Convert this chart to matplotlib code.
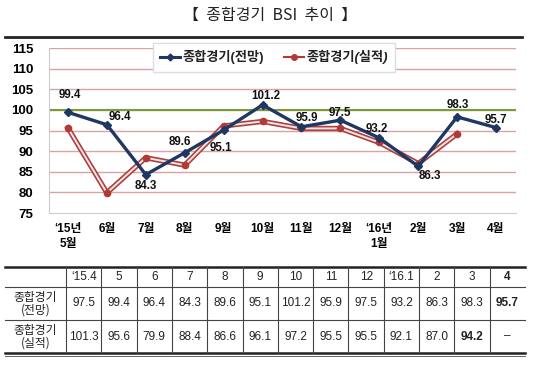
import numpy as np
import matplotlib
matplotlib.use("Agg")
import matplotlib.pyplot as plt
from matplotlib.lines import Line2D

plt.rcParams['font.family'] = ['Liberation Sans', 'Noto Sans CJK KR']

# data (table columns: '15.4 ... '16.4)
tbl_cols = ["\u201815.4", "5", "6", "7", "8", "9", "10", "11", "12", "\u201816.1", "2", "3", "4"]
outlook = [97.5, 99.4, 96.4, 84.3, 89.6, 95.1, 101.2, 95.9, 97.5, 93.2, 86.3, 98.3, 95.7]
actual = [101.3, 95.6, 79.9, 88.4, 86.6, 96.1, 97.2, 95.5, 95.5, 92.1, 87.0, 94.2, None]
months = ["\u201815년\n5월", "6월", "7월", "8월", "9월", "10월", "11월", "12월",
          "\u201816년\n1월", "2월", "3월", "4월"]

# chart shows May'15 .. Apr'16
ch_out = outlook[1:]
ch_act = [v for v in actual[1:] if v is not None]
label_off = [(2, 17), (13, 8), (0, -11), (-5, 11), (-3, -18), (3, 9), (5, 9),
             (0, 7), (-2, 9), (12, -10), (1, 12), (0, 8)]

W, H = 540, 373
fig = plt.figure(figsize=(W / 100, H / 100), dpi=100)

def fx(px):
    return px / W

def fy(py):
    return 1 - py / H

fig.text(0.5, fy(15), "【  종합경기  BSI  추이  】", ha='center', va='center', fontsize=11.5,
         family=['Noto Sans CJK KR', 'DejaVu Sans'], color='#222222')
fig.add_artist(Line2D([fx(5), fx(522)], [fy(37), fy(37)], color='#222222', lw=2))

ax = fig.add_axes([fx(48.5), fy(213), fx(515.5 - 48.5), (213 - 48) / H])
x = np.arange(len(months))
for yv in range(80, 116, 5):
    ax.axhline(yv, color='#dba3a3', lw=1, zorder=1)
ax.axhline(100, color='#7a9a3c', lw=1.5, zorder=2)

xa = np.arange(len(ch_act))
ax.plot(xa, ch_act, color='#a8433f', lw=3.8, zorder=3)
ax.plot(xa, ch_act, color='#f6e4e4', lw=1.4, zorder=4)
ax.plot(xa, ch_act, ls='none', marker='o', ms=4.5, color='#b03a36', zorder=5)
ax.plot(x, ch_out, color='#1f3763', lw=2.4, marker='D', ms=3.8, zorder=6)

for i, v in enumerate(ch_out):
    ax.annotate(f"{v:.1f}", (x[i], v), xytext=label_off[i], textcoords='offset pixels',
                ha='center', va='center', fontsize=8.3, fontweight='bold', color='#111111', zorder=7)

ax.set_xlim(-0.5, len(months) - 0.5)
ax.set_ylim(75, 115)
ax.set_yticks(range(75, 116, 5))
ax.set_xticks(x)
ax.set_xticklabels(months, fontsize=8.5, fontweight='bold', linespacing=1.35, va='top')
ax.tick_params(axis='both', length=0)
ax.tick_params(axis='y', labelsize=9.5, pad=11)
ax.tick_params(axis='x', pad=7)
for lab in ax.get_yticklabels():
    lab.set_fontweight('bold')
for s in ['top', 'right']:
    ax.spines[s].set_visible(False)
ax.spines['left'].set_color('#cccccc')
ax.spines['bottom'].set_color('#cccccc')

h1 = Line2D([], [], color='#1f3763', lw=2.2, marker='D', ms=3.5)
h2 = Line2D([], [], color='#b03a36', lw=1.5, marker='o', ms=4)
leg = fig.legend([h1, h2], ["종합경기(전망)", "종합경기(실적)"], ncol=2,
                 loc='upper left', bbox_to_anchor=(fx(153), fy(43)), borderaxespad=0,
                 fancybox=False, edgecolor='#dddddd', framealpha=1,
                 handlelength=1.5, handletextpad=0.2, columnspacing=1.5,
                 borderpad=0.55, prop={'size': 9.5, 'weight': 'bold'})
leg.get_texts()[1].set_fontstyle('italic')
leg.get_texts()[0].set_color('#222222')
leg.get_texts()[1].set_color('#222222')

# table
tx = fig.add_axes([0, 0, 1, 1])
tx.set_xlim(0, W)
tx.set_ylim(H, 0)
tx.axis('off')
left, c0, right = 5, 66, 525
colw = (right - c0) / len(tbl_cols)
r_top, r1, r2, r_bot = 267, 287, 320, 353
tx.plot([left, right], [r_top, r_top], color='#222222', lw=1.8)
tx.plot([left, right], [r1, r1], color='#444444', lw=0.8)
tx.plot([left, right], [r2, r2], color='#444444', lw=0.8)
tx.plot([left, right], [r_bot, r_bot], color='#222222', lw=1.8)
tx.plot([left, right], [r_bot + 3, r_bot + 3], color='#666666', lw=0.7)
for j in range(len(tbl_cols)):
    xb = c0 + j * colw
    tx.plot([xb, xb], [r_top, r_bot], color='#444444', lw=0.8)

tfont = dict(fontsize=8.5, color='#222222', ha='center', va='center')
for j, c in enumerate(tbl_cols):
    xc = c0 + (j + 0.5) * colw
    tx.text(xc, (r_top + r1) / 2, c, fontweight='bold' if c == "4" else 'normal', **tfont)
    v1 = outlook[j]
    tx.text(xc, (r1 + r2) / 2, f"{v1:.1f}", fontweight='bold' if j == len(tbl_cols) - 1 else 'normal', **tfont)
    v2 = actual[j]
    s2 = "\u2013" if v2 is None else f"{v2:.1f}"
    tx.text(xc, (r2 + r_bot) / 2, s2, fontweight='bold' if j == len(tbl_cols) - 2 else 'normal', **tfont)
tx.text((left + c0) / 2, (r1 + r2) / 2, "종합경기\n(전망)", linespacing=0.95,
        family=['Noto Sans CJK KR', 'DejaVu Sans'], **tfont)
tx.text((left + c0) / 2, (r2 + r_bot) / 2, "종합경기\n(실적)", linespacing=0.95,
        family=['Noto Sans CJK KR', 'DejaVu Sans'], **tfont)

fig.savefig("out.png", dpi=100)
